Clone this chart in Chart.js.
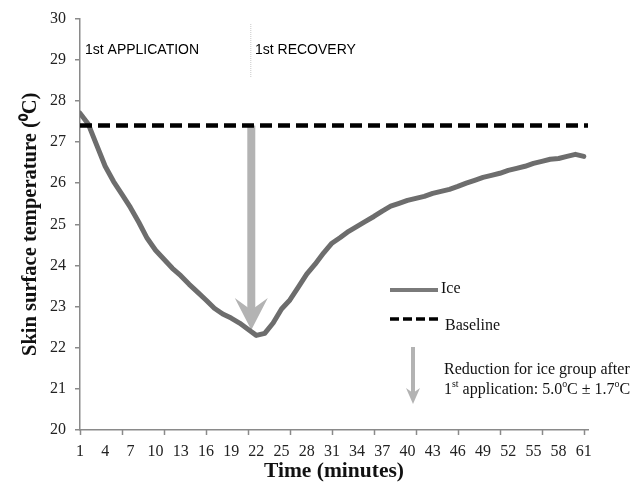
<!DOCTYPE html>
<html>
<head>
<meta charset="utf-8">
<script src="https://cdn.jsdelivr.net/npm/chart.js@4/dist/chart.umd.min.js"></script>
<style>
  html, body { margin: 0; padding: 0; background: #fff; }
  #wrap { width: 638px; height: 488px; }
</style>
</head>
<body>
<div id="wrap"><canvas id="skinChart" width="638" height="488"></canvas></div>
<script>
// time points (minutes) and mean skin temperature of the ice group
const minutes = [1, 2, 3, 4, 5, 6, 7, 8, 9, 10, 11, 12, 13, 14, 15, 16, 17, 18, 19, 20,
    21, 22, 23, 24, 25, 26, 27, 28, 29, 30, 31, 32, 33, 34, 35, 36, 37, 38, 39, 40,
    41, 42, 43, 44, 45, 46, 47, 48, 49, 50, 51, 52, 53, 54, 55, 56, 57, 58, 59, 60, 61];
const iceTemp = [27.70, 27.43, 26.92, 26.41, 26.04, 25.73, 25.41, 25.05, 24.66, 24.37,
    24.15, 23.93, 23.75, 23.54, 23.35, 23.16, 22.96, 22.82, 22.72, 22.60,
    22.45, 22.30, 22.35, 22.60, 22.94, 23.16, 23.47, 23.79, 24.03, 24.30,
    24.54, 24.68, 24.83, 24.95, 25.07, 25.19, 25.32, 25.44, 25.51, 25.58,
    25.63, 25.68, 25.75, 25.80, 25.85, 25.92, 26.00, 26.07, 26.14, 26.19,
    26.24, 26.31, 26.36, 26.41, 26.48, 26.53, 26.58, 26.60, 26.65, 26.70, 26.65];
const baselineMinutes = [1, 61.5];
const baselineTemp = [27.4, 27.4];

const xTickLabels = [1, 4, 7, 10, 13, 16, 19, 22, 25, 28, 31, 34, 37, 40, 43, 46, 49, 52, 55, 58, 61];
const xTickMarks = [1, 6, 11, 16, 21, 26, 31, 36, 41, 46, 51, 56, 61];

// arrow showing the drop after the first application
const dropMinute = 21.4;
const dropFrom = 27.4;
const dropTo = 22.43;

const axisGrey = '#8a8a8a';
const iceGrey = '#6d6d6d';
const arrowGrey = '#b3b3b3';

function drawArrow(ctx, x, y1, y2, shaft, headW, headH, notch, color) {
    ctx.save();
    ctx.fillStyle = color;
    ctx.fillRect(x - shaft / 2, y1, shaft, y2 - y1 - headH + notch);
    ctx.beginPath();
    ctx.moveTo(x, y2);
    ctx.lineTo(x - headW / 2, y2 - headH);
    ctx.lineTo(x, y2 - headH + notch);
    ctx.lineTo(x + headW / 2, y2 - headH);
    ctx.closePath();
    ctx.fill();
    ctx.restore();
}

function drawRuns(ctx, x, y, runs, size, family) {
    let cx = x;
    runs.forEach(r => {
        const sup = r[1];
        ctx.font = (sup ? size * 0.62 : size) + 'px ' + family;
        ctx.fillText(r[0], cx, sup ? y - size * 0.33 : y);
        cx += ctx.measureText(r[0]).width;
    });
}

const arrowPlugin = {
    id: 'dropArrow',
    beforeDatasetsDraw(chart) {
        const ctx = chart.ctx;
        const xs = chart.scales.x, ys = chart.scales.y;
        const ax = xs.getPixelForValue(dropMinute);
        drawArrow(ctx, ax, ys.getPixelForValue(dropFrom), ys.getPixelForValue(dropTo), 8, 33, 32, 12, arrowGrey);
    }
};

const notesPlugin = {
    id: 'notes',
    afterDraw(chart) {
        const ctx = chart.ctx;
        const xs = chart.scales.x, ys = chart.scales.y;
        ctx.save();

        // tick marks on the time axis every 5 minutes
        ctx.strokeStyle = axisGrey;
        ctx.lineWidth = 1.5;
        xTickMarks.forEach(m => {
            const px = Math.round(xs.getPixelForValue(m)) + 0.5;
            ctx.beginPath();
            ctx.moveTo(px, ys.bottom);
            ctx.lineTo(px, ys.bottom + 5);
            ctx.stroke();
        });

        // phase divider and labels
        const dx = xs.getPixelForValue(dropMinute) - 0.5;
        ctx.strokeStyle = '#c8c8c8';
        ctx.lineWidth = 1;
        ctx.setLineDash([1, 1]);
        ctx.beginPath();
        ctx.moveTo(dx, 24);
        ctx.lineTo(dx, 77);
        ctx.stroke();
        ctx.setLineDash([]);

        ctx.fillStyle = '#000';
        ctx.font = '14px "Liberation Sans"';
        ctx.textBaseline = 'middle';
        ctx.textAlign = 'left';
        ctx.fillText('1st APPLICATION', 85, 50);
        ctx.fillText('1st RECOVERY', 255, 50);

        // legend
        ctx.strokeStyle = '#7a7a7a';
        ctx.lineWidth = 4;
        ctx.beginPath();
        ctx.moveTo(390, 290);
        ctx.lineTo(438, 290);
        ctx.stroke();

        ctx.strokeStyle = '#000';
        ctx.lineWidth = 3.5;
        ctx.setLineDash([9, 4]);
        ctx.beginPath();
        ctx.moveTo(390, 319);
        ctx.lineTo(438, 319);
        ctx.stroke();
        ctx.setLineDash([]);

        ctx.fillStyle = '#111';
        const serif = '"Liberation Serif"';
        ctx.font = '16px ' + serif;
        ctx.fillText('Ice', 441, 289);
        ctx.fillText('Baseline', 445, 326);

        drawArrow(ctx, 413, 347, 404, 4, 14, 16, 5, arrowGrey);

        ctx.fillStyle = '#111';
        drawRuns(ctx, 444, 370, [['Reduction for ice group after', false]], 16, serif);
        drawRuns(ctx, 444, 390, [['1', false], ['st', true], [' application: 5.0', false], ['o', true],
            ['C \u00b1 1.7', false], ['o', true], ['C', false]], 16, serif);

        ctx.restore();
    }
};

const ctx = document.getElementById('skinChart').getContext('2d');
new Chart(ctx, {
    type: 'line',
    data: {
        datasets: [
            {
                label: 'Baseline',
                data: baselineMinutes.map((m, i) => ({ x: m, y: baselineTemp[i] })),
                borderColor: '#000',
                borderWidth: 4.5,
                borderDash: [12, 6],
                pointRadius: 0,
                fill: false
            },
            {
                label: 'Ice',
                data: minutes.map((m, i) => ({ x: m, y: iceTemp[i] })),
                borderColor: iceGrey,
                borderWidth: 5,
                borderJoinStyle: 'round',
                borderCapStyle: 'round',
                pointRadius: 0,
                tension: 0,
                fill: false
            }
        ]
    },
    options: {
        responsive: false,
        animation: false,
        layout: { padding: { top: 18, right: 50, left: 0, bottom: 0 } },
        plugins: { legend: { display: false }, tooltip: { enabled: false } },
        scales: {
            x: {
                type: 'linear',
                min: 1,
                max: 61.5,
                afterBuildTicks: s => { s.ticks = xTickLabels.map(v => ({ value: v })); },
                afterFit: s => { s.height = 58; },
                grid: { display: true, drawOnChartArea: false, drawTicks: false },
                border: { display: true, color: axisGrey, width: 1.5 },
                ticks: {
                    autoSkip: false,
                    maxRotation: 0,
                    padding: 12,
                    color: '#222',
                    font: { family: 'Liberation Serif', size: 16 }
                },
                title: {
                    display: true,
                    text: 'Time (minutes)',
                    color: '#111',
                    font: { family: 'Liberation Serif', size: 21.5, weight: 'bold' },
                    padding: { top: 0, bottom: 4 }
                }
            },
            y: {
                min: 20,
                max: 30,
                afterFit: s => { s.width = 80; },
                grid: { drawOnChartArea: false, drawTicks: true, tickLength: 5, color: axisGrey, lineWidth: 1.5 },
                border: { display: true, color: axisGrey, width: 1.5 },
                ticks: {
                    stepSize: 1,
                    padding: 9,
                    color: '#222',
                    font: { family: 'Liberation Serif', size: 16 }
                },
                title: {
                    display: true,
                    text: 'Skin surface temperature (\u2070C)',
                    color: '#111',
                    font: { family: 'Liberation Serif', size: 20.5, weight: 'bold' },
                    padding: { top: 18, bottom: 0 }
                }
            }
        }
    },
    plugins: [arrowPlugin, notesPlugin]
});
</script>
</body>
</html>
